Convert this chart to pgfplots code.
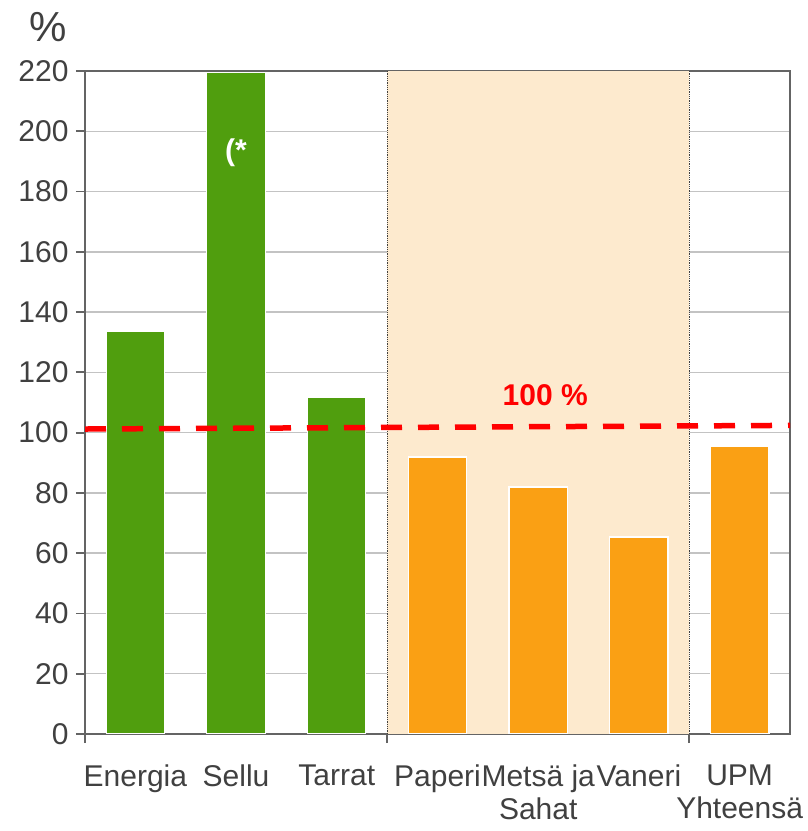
\documentclass[border=0pt]{standalone}
\usepackage{pgfplots}
\pgfplotsset{compat=1.18}
\usepackage{fontspec}
\setmainfont{Liberation Sans}
\definecolor{bargreen}{RGB}{80,158,14}
\definecolor{barorange}{RGB}{250,160,20}
\definecolor{shadecol}{RGB}{253,234,206}
\definecolor{txt}{RGB}{64,64,64}
\definecolor{axgray}{RGB}{100,100,100}
\definecolor{gridgray}{RGB}{195,195,195}
\begin{document}
\begin{tikzpicture}
\begin{axis}[name=ax, set layers, scale only axis, width=705pt, height=663pt,
  xmin=-0.5, xmax=6.5, ymin=0, ymax=220, ytick={0,20,...,220},
  ymajorgrids, grid style={gridgray, line width=1.5pt},
  axis line style={axgray, line width=1.8pt},
  tick style={axgray, line width=1.8pt},
  tick align=outside, xtick pos=bottom, ytick pos=left,
  major tick length=9pt,
  xtick={-0.5,2.5,5.5}, xticklabels={},
  extra x ticks={0,1,2,3,4,5,6},
  extra x tick labels={Energia,Sellu,Tarrat,Paperi,Metsä ja\\Sahat,Vaneri,UPM\\Yhteensä},
  extra x tick style={major tick length=0pt, xticklabel style={yshift=-27pt}},
  xticklabel style={font=\fontsize{30}{33}\selectfont, text=txt, align=center, anchor=north, inner xsep=0pt},
  yticklabel style={font=\fontsize{30}{33}\selectfont, text=txt, xshift=-4pt},
  /pgf/number format/assume math mode=true,
]
\fill[shadecol, on layer=axis background] (axis cs:2.5,0) rectangle (axis cs:5.5,220);
\draw[txt, densely dotted, line width=0.8pt] (axis cs:2.5,0) -- (axis cs:2.5,220);
\draw[txt, densely dotted, line width=0.8pt] (axis cs:5.5,0) -- (axis cs:5.5,220);
\addplot[ybar, bar width=0.58, bar shift=0pt, fill=bargreen, draw=white, line width=1pt]
  coordinates {(0,133.4) (1,219.5) (2,111.8)};
\addplot[ybar, bar width=0.58, bar shift=0pt, fill=barorange, draw=white, line width=1.5pt]
  coordinates {(3,91.9) (4,82.0) (5,65.4) (6,95.6)};
\addplot[red, line width=5.5pt, dash pattern=on 21pt off 16pt, forget plot]
  coordinates {(-0.5,101.2) (6.5,102.4)};
\node[text=red, font=\fontsize{30}{33}\selectfont\bfseries] at (axis cs:4.07,112.5) {100 \%};
\node[text=white, font=\fontsize{30}{33}\selectfont\bfseries] at (axis cs:1,193) {(*};
\end{axis}
\node[text=txt, font=\fontsize{42}{46}\selectfont] at ([shift={(-37pt,44pt)}]ax.north west) {\%};
\pgfresetboundingbox
\path ([shift={(-85pt,-97pt)}]ax.south west) rectangle ([shift={(17pt,71pt)}]ax.north east);
\end{tikzpicture}
\end{document}
